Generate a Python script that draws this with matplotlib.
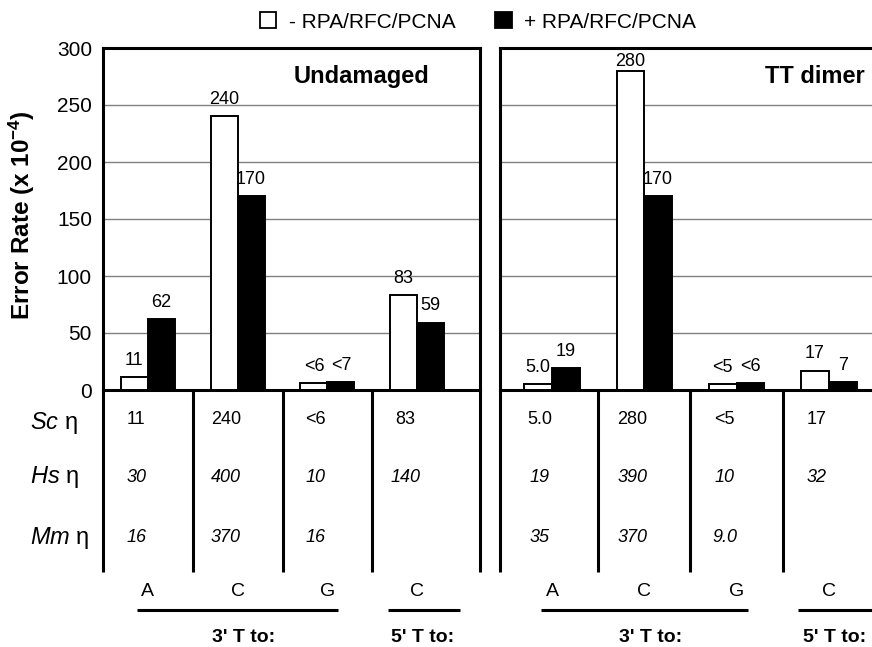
import matplotlib
matplotlib.use('Agg')
import matplotlib.pyplot as plt
from matplotlib.patches import Patch
import numpy as np

plt.rcParams['font.family'] = ['Liberation Sans', 'DejaVu Sans']
plt.rcParams['mathtext.fontset'] = 'custom'
plt.rcParams['mathtext.rm'] = 'Liberation Sans'
plt.rcParams['mathtext.it'] = 'Liberation Sans:italic'
plt.rcParams['mathtext.bf'] = 'Liberation Sans:bold'

# ---------------- data ----------------
categories = ['A', 'C', 'G', 'C']
panel_titles = ['Undamaged', 'TT dimer']
legend_labels = ['- RPA/RFC/PCNA', '+ RPA/RFC/PCNA']

undamaged_minus = [11, 240, 6, 83]
undamaged_plus = [62, 170, 7, 59]
undamaged_minus_labels = ['11', '240', '<6', '83']
undamaged_plus_labels = ['62', '170', '<7', '59']

ttdimer_minus = [5.0, 280, 5, 17]
ttdimer_plus = [19, 170, 6, 7]
ttdimer_minus_labels = ['5.0', '280', '<5', '17']
ttdimer_plus_labels = ['19', '170', '<6', '7']

row_labels = [r'$\mathit{Sc}$ η', r'$\mathit{Hs}$ η', r'$\mathit{Mm}$ η']
sc_undamaged = ['11', '240', '<6', '83']
hs_undamaged = ['30', '400', '10', '140']
mm_undamaged = ['16', '370', '16', '']
sc_ttdimer = ['5.0', '280', '<5', '17']
hs_ttdimer = ['19', '390', '10', '32']
mm_ttdimer = ['35', '370', '9.0', '']

yticks = [0, 50, 100, 150, 200, 250, 300]
group_labels = ["3' T to:", "5' T to:"]
ylabel = r'Error Rate (x 10$^{\mathbf{-4}}$)'

# ---------------- layout ----------------
W, H = 872, 647
fig = plt.figure(figsize=(W / 100, H / 100), dpi=100)
base_y = 390   # px from top of figure
top_y = 48
ymax = 300
px_per_unit = (base_y - top_y) / ymax

panels = [
    dict(left=103, width=377, xlim=(-0.5, 3.70),
         minus=undamaged_minus, plus=undamaged_plus,
         ml=undamaged_minus_labels, pl=undamaged_plus_labels,
         rows=[sc_undamaged, hs_undamaged, mm_undamaged],
         title=panel_titles[0], title_x=0.687, right_spine=True),
    dict(left=500, width=372, xlim=(-0.563, 3.467),
         minus=ttdimer_minus, plus=ttdimer_plus,
         ml=ttdimer_minus_labels, pl=ttdimer_plus_labels,
         rows=[sc_ttdimer, hs_ttdimer, mm_ttdimer],
         title=panel_titles[1], title_x=0.847, right_spine=False),
]

bw = 0.30
lw_thick = 2.2
x = np.arange(len(categories))


def label_bars(ax, bars, labels):
    for rect, lbl in zip(bars, labels):
        h = rect.get_height()
        room_pt = ((ymax - h) * px_per_unit - 22) * 0.72
        off = max(0.5, min(6, room_pt))
        ax.annotate(lbl, (rect.get_x() + rect.get_width() / 2, h),
                    xytext=(0, off), textcoords='offset points',
                    ha='center', va='bottom', fontsize=13)


for i, p in enumerate(panels):
    ax = fig.add_axes([p['left'] / W, (H - base_y) / H, p['width'] / W, (base_y - top_y) / H])
    ax.set_xlim(*p['xlim'])
    ax.set_ylim(0, ymax)
    ax.set_yticks(yticks)
    ax.set_xticks([])
    ax.yaxis.grid(True, color='#808080', lw=1.0)
    ax.set_axisbelow(True)
    ax.tick_params(axis='y', length=0, pad=8, labelsize=15)
    if i == 1:
        ax.set_yticklabels([])
    else:
        ax.set_ylabel(ylabel, fontsize=17.5, fontweight='bold')
        ax.yaxis.set_label_coords(-0.175, 0.51)
    for s in ['left', 'top', 'bottom', 'right']:
        ax.spines[s].set_linewidth(lw_thick)
    ax.spines['right'].set_visible(p['right_spine'])

    b1 = ax.bar(x - bw / 2, p['minus'], bw, color='white', edgecolor='black', lw=1.4, zorder=3)
    b2 = ax.bar(x + bw / 2, p['plus'], bw, color='black', edgecolor='black', lw=1.4, zorder=3)
    label_bars(ax, b1, p['ml'])
    label_bars(ax, b2, p['pl'])
    ax.text(p['title_x'], 0.918, p['title'], transform=ax.transAxes, ha='center', va='center',
            fontsize=17, fontweight='bold')

    # table area below
    axt = fig.add_axes([p['left'] / W, 0, p['width'] / W, (H - base_y) / H])
    axt.set_xlim(*p['xlim'])
    axt.set_ylim(H - base_y, 0)
    axt.axis('off')
    axt.patch.set_alpha(0)
    bounds = [p['xlim'][0], 0.5, 1.5, 2.5]
    if p['right_spine']:
        bounds.append(p['xlim'][1])
    axt.vlines(bounds, 0, 182, color='black', lw=lw_thick, clip_on=False)
    row_y = [29, 87, 147]
    for r, (vals, yy) in enumerate(zip(p['rows'], row_y)):
        for xi, v in zip(x, vals):
            axt.text(xi - 0.13, yy, v, ha='center', va='center', fontsize=13,
                     style='normal' if r == 0 else 'italic', clip_on=False)
    for xi, c in zip(x, categories):
        axt.text(xi, 202, c, ha='center', va='center', fontsize=14, clip_on=False)
    axt.hlines(220, -0.12, 2.12, color='black', lw=lw_thick, clip_on=False)
    axt.hlines(220, 2.67, 3.48, color='black', lw=lw_thick, clip_on=False)
    axt.text(1.07, 247, group_labels[0], ha='center', va='center', fontsize=14,
             fontweight='bold', clip_on=False)
    axt.text(3.06, 247, group_labels[1], ha='center', va='center', fontsize=14,
             fontweight='bold', clip_on=False)

# row labels
for lbl, yy in zip(row_labels, [423, 477, 538]):
    fig.text(30 / W, 1 - yy / H, lbl, ha='left', va='center', fontsize=17)

# legend
handles = [Patch(facecolor='white', edgecolor='black', lw=1.3, label=legend_labels[0]),
           Patch(facecolor='black', edgecolor='black', lw=1.3, label=legend_labels[1])]
fig.legend(handles=handles, loc='center', bbox_to_anchor=(478 / W, 1 - 22 / H), ncol=2,
           frameon=False, fontsize=15, handlelength=0.8, handleheight=0.8,
           handletextpad=0.6, columnspacing=1.9)

fig.savefig('out.png', dpi=100)
